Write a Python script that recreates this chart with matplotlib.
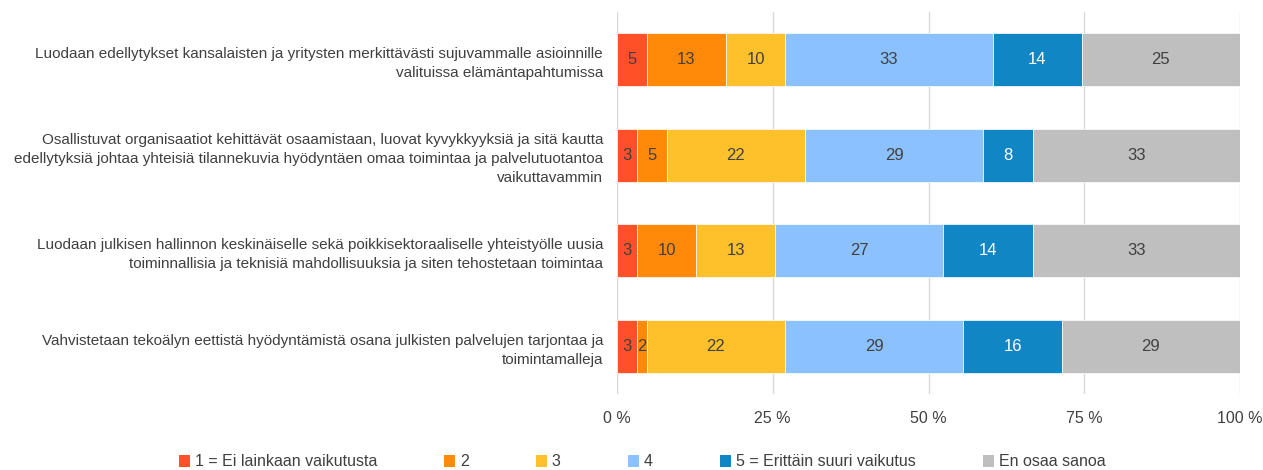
import matplotlib
matplotlib.use("Agg")
import matplotlib.pyplot as plt
from matplotlib.patches import Patch
import numpy as np

# ── Data (prosenttia, luettu kuvasta) ──
categories = [
    "Luodaan edellytykset kansalaisten ja yritysten merkittävästi sujuvammalle asioinnille\n"
    "valituissa elämäntapahtumissa",
    "Osallistuvat organisaatiot kehittävät osaamistaan, luovat kyvykkyyksiä ja sitä kautta\n"
    "edellytyksiä johtaa yhteisiä tilannekuvia hyödyntäen omaa toimintaa ja palvelutuotantoa\n"
    "vaikuttavammin",
    "Luodaan julkisen hallinnon keskinäiselle sekä poikkisektoraaliselle yhteistyölle uusia\n"
    "toiminnallisia ja teknisiä mahdollisuuksia ja siten tehostetaan toimintaa",
    "Vahvistetaan tekoälyn eettistä hyödyntämistä osana julkisten palvelujen tarjontaa ja\n"
    "toimintamalleja",
]
series_names = ["1 = Ei lainkaan vaikutusta", "2", "3", "4",
                "5 = Erittäin suuri vaikutus", "En osaa sanoa"]
s1 = [4.8, 3.2, 3.2, 3.2]
s2 = [12.7, 4.8, 9.5, 1.6]
s3 = [9.5, 22.2, 12.7, 22.2]
s4 = [33.3, 28.6, 27.0, 28.6]
s5 = [14.3, 7.9, 14.3, 15.9]
s6 = [25.4, 33.3, 33.3, 28.6]
xticks = [0, 25, 50, 75, 100]
xtick_labels = ["0 %", "25 %", "50 %", "75 %", "100 %"]

colors = ["#FF5028", "#FF8A0A", "#FFC12B", "#8BC1FF", "#1186C4", "#BFBFBF"]
text_colors = ["#404040", "#404040", "#404040", "#404040", "white", "#404040"]

plt.rcParams["font.family"] = ["Liberation Sans Narrow", "Liberation Sans", "DejaVu Sans"]

fig = plt.figure(figsize=(12.63, 4.70), dpi=100)
ax = fig.add_axes([617 / 1263, 1 - 394 / 470, 623 / 1263, 382 / 470])

raw = np.array([s1, s2, s3, s4, s5, s6])
data = raw / raw.sum(axis=0) * 100
y = np.arange(len(categories))
left = np.zeros(len(categories))
for i, name in enumerate(series_names):
    bars = ax.barh(y, data[i], left=left, height=0.55, color=colors[i],
                   edgecolor="white", linewidth=0.5, label=name, zorder=3)
    ax.bar_label(bars, labels=[f"{v:.0f}" for v in raw[i]], label_type="center",
                 color=text_colors[i], fontsize=12)
    left += data[i]

ax.set_xlim(0, 100)
ax.set_ylim(3.5, -0.5)
ax.set_xticks(xticks)
ax.set_xticklabels(xtick_labels, fontsize=11.5, color="#404040")
ax.set_yticks(y)
ax.set_yticklabels(categories, fontsize=11, color="#404040", linespacing=1.45)
ax.tick_params(axis="both", length=0)
ax.tick_params(axis="x", pad=12)
ax.tick_params(axis="y", pad=10)
ax.grid(axis="x", color="#D9D9D9", linewidth=1, zorder=0)
for sp in ax.spines.values():
    sp.set_visible(False)

handles = [Patch(facecolor=c, edgecolor="none") for c in colors]
fig.legend(handles, series_names, loc="center", bbox_to_anchor=(642 / 1263, 1 - 462 / 470),
           ncol=6, frameon=False, fontsize=11.5, handlelength=0.7, handleheight=0.7,
           handletextpad=0.3, columnspacing=4.2, labelcolor="#404040")

fig.savefig("out.png", dpi=100)
